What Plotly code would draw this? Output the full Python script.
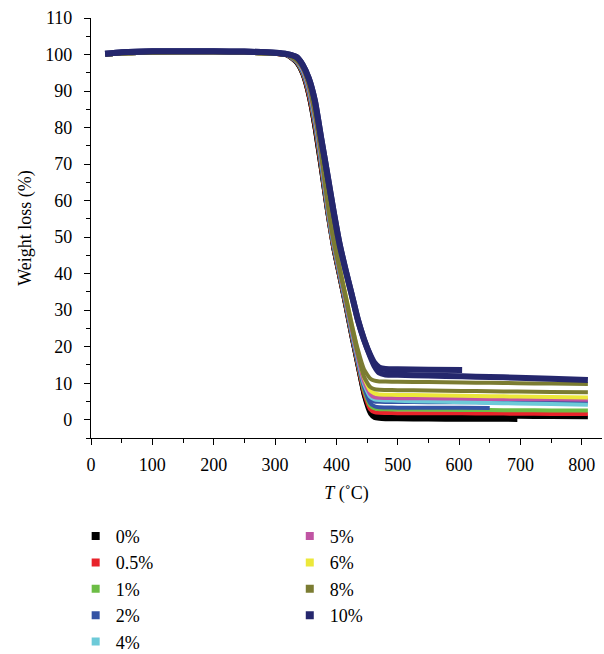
import plotly.graph_objects as go

# Temperature grid (°C)
T = [23, 50, 100, 150, 200, 250, 300, 320, 335, 345, 355, 365, 375, 385, 395, 405,
     415, 425, 435, 445, 455, 462, 470, 480, 500, 550, 605, 650, 695, 750, 810]

flat = [100.0, 100.3, 100.5, 100.6, 100.6, 100.5, 100.2]

w0_a = flat + [99.7, 97.7, 94.5, 88.5, 79.5, 68.5, 57, 47, 39, 31, 22.5, 14.5, 6.5, 1.6,
               0.5, 0.25, 0.15, 0.1, 0.05, 0.0, 0.0, -0.05, None, None]
w0_b = flat + [99.7, 97.7, 94.5, 88.5, 79.5, 68.5, 57, 47, 39, 31, 22.5, 14.5, 6.8, 2.3,
               1.3, 1.1, 1.0, 1.0, 0.95, 0.9, 0.85, 0.8, 0.75, 0.7]
w05 = flat + [99.75, 97.9, 94.8, 89, 80.3, 69.3, 57.5, 47.4, 39.4, 31.4, 23, 15, 7.5, 2.9,
              2.1, 1.9, 1.85, 1.8, 1.8, 1.75, 1.7, 1.65, 1.6, 1.6]
w1 = flat + [99.8, 98, 95.1, 89.6, 81, 70, 58, 47.8, 39.8, 31.8, 23.4, 15.5, 8.2, 3.9,
             3.1, 2.9, 2.85, 2.8, 2.75, 2.7, 2.65, 2.6, 2.55, 2.5]
w2_a = flat + [99.8, 98.1, 95.4, 90.1, 81.7, 70.8, 58.5, 48.2, 40.2, 32.2, 23.8, 16, 9, 4.6,
               3.7, 3.4, 3.35, 3.3, 3.3, 3.25, 3.2, None, None, None]
w2_b = flat + [99.8, 98.1, 95.4, 90.1, 81.7, 70.8, 58.5, 48.2, 40.2, 32.2, 23.8, 16, 9.2, 5.5,
               5.0, 4.9, 4.85, 4.85, 4.8, 4.8, 4.75, 4.75, 4.7, 4.7]
w4 = flat + [99.85, 98.2, 95.7, 90.6, 82.3, 71.5, 59, 48.6, 40.6, 32.6, 24.3, 16.6, 9.8, 6.3,
             5.6, 5.4, 5.3, 5.2, 5.0, 4.8, 4.6, 4.45, 4.3, 4.1]
w5 = flat + [99.9, 98.3, 96, 91, 83, 72.2, 59.6, 49, 41, 33, 24.8, 17.2, 10.5, 7,
             6.2, 6.0, 5.95, 5.9, 5.85, 5.8, 5.7, 5.65, 5.6, 5.5]
w6 = flat + [100, 98.6, 96.6, 92.4, 84.8, 74.3, 61.5, 50.3, 42.2, 34.3, 26.2, 18.6, 11.6, 8,
             7.2, 6.9, 6.85, 6.8, 6.7, 6.55, 6.45, 6.35, 6.25, 6.1]
w8_b = flat + [99.9, 98.4, 96.3, 91.5, 83.6, 73, 60.2, 49.4, 41.4, 33.5, 25.4, 18, 11.8, 9,
               8.4, 8.2, 8.15, 8.1, 8.0, 7.9, 7.8, 7.7, 7.6, 7.5]
w8_a = flat + [99.9, 98.5, 96.5, 92, 84.2, 73.7, 60.8, 49.8, 41.8, 34, 26.2, 19.2, 13.8, 11.3,
               10.7, 10.5, 10.45, 10.4, 10.3, 10.2, 10.1, 10.0, 9.9, 9.8]
flat10 = [100.2, 100.6, 100.9, 100.9, 100.9, 100.8, 100.5]
w10_a = flat10 + [100.1, 99.3, 97.2, 93.5, 87.3, 77.3, 67.5, 57.5, 48.3, 41, 34.3, 27.4, 22, 17.8,
                  15.6, 14.3, 13.9, 13.8, 13.7, 13.6, None, None, None, None]
w10_b = flat10 + [100.1, 99.3, 97.2, 93.5, 87.3, 77.3, 67.5, 57.5, 48.3, 41, 34.3, 27.4, 22, 17.5,
                  14.8, 12.9, 12.4, 12.3, 12.1, 11.9, 11.7, 11.5, 11.2, 10.9]

labels = ["0%", "0.5%", "1%", "2%", "4%", "5%", "6%", "8%", "10%"]
colors = ["#000000", "#e8232b", "#6cbd45", "#3453a4", "#6dcad8", "#c054a3", "#ece83a",
          "#7b7c32", "#25276d"]
runs = [[w0_a, w0_b], [w05], [w1], [w2_a, w2_b], [w4], [w5], [w6], [w8_b, w8_a],
        [w10_a, w10_b]]

fig = go.Figure()
for lab, col, rr in zip(labels, colors, runs):
    for y in rr:
        fig.add_trace(go.Scatter(x=T, y=y, mode="lines", showlegend=False,
                                 line=dict(color=col, width=6 if lab == "10%" else 4,
                                           shape="spline", smoothing=0.5),
                                 connectgaps=False, hoverinfo="skip"))

for i, (lab, col) in enumerate(zip(labels, colors)):
    fig.add_trace(go.Scatter(x=[None], y=[None], mode="markers", name=lab,
                             marker=dict(symbol="square", size=8, color=col),
                             legend="legend" if i < 5 else "legend2"))

font = "Liberation Serif"
axis_common = dict(showline=True, linecolor="black", linewidth=1.3, ticks="outside",
                   ticklen=6, tickwidth=1.3, tickcolor="black", showgrid=False,
                   zeroline=False, mirror=False,
                   tickfont=dict(family=font, size=18, color="black"))

fig.update_layout(
    width=604, height=654,
    margin=dict(l=91, r=2, t=18, b=216, autoexpand=False),
    plot_bgcolor="white", paper_bgcolor="white",
    xaxis=dict(range=[0, 833], dtick=100, tick0=0, ticklabelstandoff=4,
               minor=dict(dtick=50, ticks="outside", ticklen=4, tickcolor="black", tickwidth=1.3),
               title=dict(text="<i>T</i> (˚C)", font=dict(family=font, size=18, color="black"),
                          standoff=12),
               **axis_common),
    yaxis=dict(range=[-5, 110], dtick=10, tick0=0, ticklabelstandoff=8,
               minor=dict(dtick=5, ticks="outside", ticklen=4, tickcolor="black", tickwidth=1.3),
               title=dict(text="Weight loss (%)", font=dict(family=font, size=18, color="black"),
                          standoff=8),
               **axis_common),
    legend=dict(x=-0.03, y=-0.19, xanchor="left", yanchor="top", orientation="v",
                font=dict(family=font, size=18, color="black"), bgcolor="rgba(0,0,0,0)",
                itemwidth=30),
    legend2=dict(x=0.389, y=-0.19, xanchor="left", yanchor="top", orientation="v",
                 font=dict(family=font, size=18, color="black"), bgcolor="rgba(0,0,0,0)",
                 itemwidth=30),
)

fig.write_html("out.html")
